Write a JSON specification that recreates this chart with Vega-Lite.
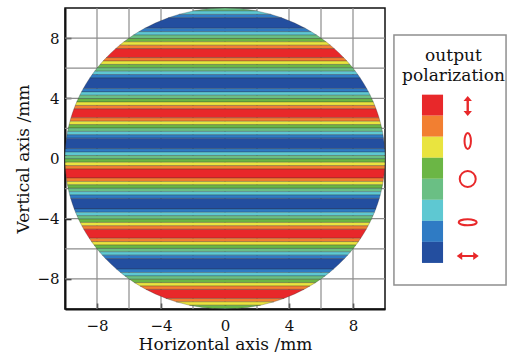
{
  "$schema": "https://vega.github.io/schema/vega-lite/v6.json",
  "padding": {"left": 14, "top": 6, "right": 0, "bottom": 0},
  "spacing": 0,
  "config": {
    "view": {"stroke": null},
    "axis": {"labelFont": "DejaVu Serif", "labelFontSize": 15, "labelColor": "#111", "titleFont": "DejaVu Serif", "titleFontSize": 17, "titleFontWeight": "normal", "titleColor": "#111", "domainColor": "#111", "domainWidth": 2, "tickColor": "#111", "tickWidth": 1.5, "tickSize": -6, "grid": false, "zindex": 1},
    "axisX": {"labelPadding": 15, "titlePadding": 3},
    "axisY": {"labelPadding": 12, "titlePadding": 4}
  },
  "hconcat": [
    {
      "width": 320,
      "height": 301,
      "view": {"stroke": "#111", "strokeWidth": 1.5},
      "layer": [
        {
          "data": {"values": [{"g": -8}, {"g": -6}, {"g": -4}, {"g": -2}, {"g": 0}, {"g": 2}, {"g": 4}, {"g": 6}, {"g": 8}]},
          "mark": {"type": "rule", "color": "#8c8c8c", "strokeWidth": 1.2},
          "encoding": {"x": {"field": "g", "type": "quantitative", "scale": {"domain": [-10, 10], "nice": false, "zero": false}, "axis": {"values": [-8, -4, 0, 4, 8], "title": "Horizontal axis /mm"}}}
        },
        {
          "data": {"values": [{"g": -8}, {"g": -6}, {"g": -4}, {"g": -2}, {"g": 0}, {"g": 2}, {"g": 4}, {"g": 6}, {"g": 8}]},
          "mark": {"type": "rule", "color": "#8c8c8c", "strokeWidth": 1.2},
          "encoding": {"y": {"field": "g", "type": "quantitative", "scale": {"domain": [-10, 10], "nice": false, "zero": false}, "axis": {"values": [-8, -4, 0, 4, 8], "title": "Vertical axis /mm"}}}
        },
        {
          "data": {"values": [
            {"s":1,"c":3,"y":10,"a":0,"b":0},{"s":1,"c":3,"y":9.96,"a":-0.894,"b":0.894},{"s":1,"c":3,"y":9.9,"a":-1.411,"b":1.411},{"s":1,"c":3,"y":9.8,"a":-1.99,"b":1.99},
            {"s":2,"c":2,"y":9.8,"a":-1.99,"b":1.99},{"s":2,"c":2,"y":9.575,"a":-2.884,"b":2.884},
            {"s":3,"c":1,"y":9.575,"a":-2.884,"b":2.884},{"s":3,"c":1,"y":9.35,"a":-3.546,"b":3.546},
            {"s":4,"c":0,"y":9.35,"a":-3.546,"b":3.546},{"s":4,"c":0,"y":9,"a":-4.359,"b":4.359},{"s":4,"c":0,"y":8.65,"a":-5.018,"b":5.018},
            {"s":5,"c":1,"y":8.65,"a":-5.018,"b":5.018},{"s":5,"c":1,"y":8.425,"a":-5.387,"b":5.387},
            {"s":6,"c":2,"y":8.425,"a":-5.387,"b":5.387},{"s":6,"c":2,"y":8.2,"a":-5.724,"b":5.724},
            {"s":7,"c":3,"y":8.2,"a":-5.724,"b":5.724},{"s":7,"c":3,"y":7.975,"a":-6.033,"b":6.033},
            {"s":8,"c":4,"y":7.975,"a":-6.033,"b":6.033},{"s":8,"c":4,"y":7.75,"a":-6.32,"b":6.32},
            {"s":9,"c":5,"y":7.75,"a":-6.32,"b":6.32},{"s":9,"c":5,"y":7.525,"a":-6.586,"b":6.586},
            {"s":10,"c":6,"y":7.525,"a":-6.586,"b":6.586},{"s":10,"c":6,"y":7.3,"a":-6.834,"b":6.834},
            {"s":11,"c":7,"y":7.3,"a":-6.834,"b":6.834},{"s":11,"c":7,"y":7,"a":-7.141,"b":7.141},{"s":11,"c":7,"y":6.7,"a":-7.424,"b":7.424},
            {"s":12,"c":6,"y":6.7,"a":-7.424,"b":7.424},{"s":12,"c":6,"y":6.475,"a":-7.621,"b":7.621},
            {"s":13,"c":5,"y":6.475,"a":-7.621,"b":7.621},{"s":13,"c":5,"y":6.25,"a":-7.806,"b":7.806},
            {"s":14,"c":4,"y":6.25,"a":-7.806,"b":7.806},{"s":14,"c":4,"y":6.025,"a":-7.981,"b":7.981},
            {"s":15,"c":3,"y":6.025,"a":-7.981,"b":7.981},{"s":15,"c":3,"y":5.8,"a":-8.146,"b":8.146},
            {"s":16,"c":2,"y":5.8,"a":-8.146,"b":8.146},{"s":16,"c":2,"y":5.575,"a":-8.302,"b":8.302},
            {"s":17,"c":1,"y":5.575,"a":-8.302,"b":8.302},{"s":17,"c":1,"y":5.35,"a":-8.449,"b":8.449},
            {"s":18,"c":0,"y":5.35,"a":-8.449,"b":8.449},{"s":18,"c":0,"y":5,"a":-8.66,"b":8.66},{"s":18,"c":0,"y":4.65,"a":-8.853,"b":8.853},
            {"s":19,"c":1,"y":4.65,"a":-8.853,"b":8.853},{"s":19,"c":1,"y":4.425,"a":-8.968,"b":8.968},
            {"s":20,"c":2,"y":4.425,"a":-8.968,"b":8.968},{"s":20,"c":2,"y":4.2,"a":-9.075,"b":9.075},
            {"s":21,"c":3,"y":4.2,"a":-9.075,"b":9.075},{"s":21,"c":3,"y":3.975,"a":-9.176,"b":9.176},
            {"s":22,"c":4,"y":3.975,"a":-9.176,"b":9.176},{"s":22,"c":4,"y":3.75,"a":-9.27,"b":9.27},
            {"s":23,"c":5,"y":3.75,"a":-9.27,"b":9.27},{"s":23,"c":5,"y":3.525,"a":-9.358,"b":9.358},
            {"s":24,"c":6,"y":3.525,"a":-9.358,"b":9.358},{"s":24,"c":6,"y":3.3,"a":-9.44,"b":9.44},
            {"s":25,"c":7,"y":3.3,"a":-9.44,"b":9.44},{"s":25,"c":7,"y":3,"a":-9.539,"b":9.539},{"s":25,"c":7,"y":2.7,"a":-9.629,"b":9.629},
            {"s":26,"c":6,"y":2.7,"a":-9.629,"b":9.629},{"s":26,"c":6,"y":2.475,"a":-9.689,"b":9.689},
            {"s":27,"c":5,"y":2.475,"a":-9.689,"b":9.689},{"s":27,"c":5,"y":2.25,"a":-9.744,"b":9.744},
            {"s":28,"c":4,"y":2.25,"a":-9.744,"b":9.744},{"s":28,"c":4,"y":2.025,"a":-9.793,"b":9.793},
            {"s":29,"c":3,"y":2.025,"a":-9.793,"b":9.793},{"s":29,"c":3,"y":1.8,"a":-9.837,"b":9.837},
            {"s":30,"c":2,"y":1.8,"a":-9.837,"b":9.837},{"s":30,"c":2,"y":1.575,"a":-9.875,"b":9.875},
            {"s":31,"c":1,"y":1.575,"a":-9.875,"b":9.875},{"s":31,"c":1,"y":1.35,"a":-9.908,"b":9.908},
            {"s":32,"c":0,"y":1.35,"a":-9.908,"b":9.908},{"s":32,"c":0,"y":1,"a":-9.95,"b":9.95},{"s":32,"c":0,"y":0.65,"a":-9.979,"b":9.979},
            {"s":33,"c":1,"y":0.65,"a":-9.979,"b":9.979},{"s":33,"c":1,"y":0.425,"a":-9.991,"b":9.991},
            {"s":34,"c":2,"y":0.425,"a":-9.991,"b":9.991},{"s":34,"c":2,"y":0.2,"a":-9.998,"b":9.998},
            {"s":35,"c":3,"y":0.2,"a":-9.998,"b":9.998},{"s":35,"c":3,"y":0,"a":-10,"b":10},{"s":35,"c":3,"y":-0.025,"a":-10,"b":10},
            {"s":36,"c":4,"y":-0.025,"a":-10,"b":10},{"s":36,"c":4,"y":-0.25,"a":-9.997,"b":9.997},
            {"s":37,"c":5,"y":-0.25,"a":-9.997,"b":9.997},{"s":37,"c":5,"y":-0.475,"a":-9.989,"b":9.989},
            {"s":38,"c":6,"y":-0.475,"a":-9.989,"b":9.989},{"s":38,"c":6,"y":-0.7,"a":-9.975,"b":9.975},
            {"s":39,"c":7,"y":-0.7,"a":-9.975,"b":9.975},{"s":39,"c":7,"y":-1,"a":-9.95,"b":9.95},{"s":39,"c":7,"y":-1.3,"a":-9.915,"b":9.915},
            {"s":40,"c":6,"y":-1.3,"a":-9.915,"b":9.915},{"s":40,"c":6,"y":-1.525,"a":-9.883,"b":9.883},
            {"s":41,"c":5,"y":-1.525,"a":-9.883,"b":9.883},{"s":41,"c":5,"y":-1.75,"a":-9.846,"b":9.846},
            {"s":42,"c":4,"y":-1.75,"a":-9.846,"b":9.846},{"s":42,"c":4,"y":-1.975,"a":-9.803,"b":9.803},
            {"s":43,"c":3,"y":-1.975,"a":-9.803,"b":9.803},{"s":43,"c":3,"y":-2.2,"a":-9.755,"b":9.755},
            {"s":44,"c":2,"y":-2.2,"a":-9.755,"b":9.755},{"s":44,"c":2,"y":-2.425,"a":-9.702,"b":9.702},
            {"s":45,"c":1,"y":-2.425,"a":-9.702,"b":9.702},{"s":45,"c":1,"y":-2.65,"a":-9.643,"b":9.643},
            {"s":46,"c":0,"y":-2.65,"a":-9.643,"b":9.643},{"s":46,"c":0,"y":-3,"a":-9.539,"b":9.539},{"s":46,"c":0,"y":-3.35,"a":-9.422,"b":9.422},
            {"s":47,"c":1,"y":-3.35,"a":-9.422,"b":9.422},{"s":47,"c":1,"y":-3.575,"a":-9.339,"b":9.339},
            {"s":48,"c":2,"y":-3.575,"a":-9.339,"b":9.339},{"s":48,"c":2,"y":-3.8,"a":-9.25,"b":9.25},
            {"s":49,"c":3,"y":-3.8,"a":-9.25,"b":9.25},{"s":49,"c":3,"y":-4.025,"a":-9.154,"b":9.154},
            {"s":50,"c":4,"y":-4.025,"a":-9.154,"b":9.154},{"s":50,"c":4,"y":-4.25,"a":-9.052,"b":9.052},
            {"s":51,"c":5,"y":-4.25,"a":-9.052,"b":9.052},{"s":51,"c":5,"y":-4.475,"a":-8.943,"b":8.943},
            {"s":52,"c":6,"y":-4.475,"a":-8.943,"b":8.943},{"s":52,"c":6,"y":-4.7,"a":-8.827,"b":8.827},
            {"s":53,"c":7,"y":-4.7,"a":-8.827,"b":8.827},{"s":53,"c":7,"y":-5,"a":-8.66,"b":8.66},{"s":53,"c":7,"y":-5.3,"a":-8.48,"b":8.48},
            {"s":54,"c":6,"y":-5.3,"a":-8.48,"b":8.48},{"s":54,"c":6,"y":-5.525,"a":-8.335,"b":8.335},
            {"s":55,"c":5,"y":-5.525,"a":-8.335,"b":8.335},{"s":55,"c":5,"y":-5.75,"a":-8.182,"b":8.182},
            {"s":56,"c":4,"y":-5.75,"a":-8.182,"b":8.182},{"s":56,"c":4,"y":-5.975,"a":-8.019,"b":8.019},
            {"s":57,"c":3,"y":-5.975,"a":-8.019,"b":8.019},{"s":57,"c":3,"y":-6.2,"a":-7.846,"b":7.846},
            {"s":58,"c":2,"y":-6.2,"a":-7.846,"b":7.846},{"s":58,"c":2,"y":-6.425,"a":-7.663,"b":7.663},
            {"s":59,"c":1,"y":-6.425,"a":-7.663,"b":7.663},{"s":59,"c":1,"y":-6.65,"a":-7.468,"b":7.468},
            {"s":60,"c":0,"y":-6.65,"a":-7.468,"b":7.468},{"s":60,"c":0,"y":-7,"a":-7.141,"b":7.141},{"s":60,"c":0,"y":-7.35,"a":-6.781,"b":6.781},
            {"s":61,"c":1,"y":-7.35,"a":-6.781,"b":6.781},{"s":61,"c":1,"y":-7.575,"a":-6.528,"b":6.528},
            {"s":62,"c":2,"y":-7.575,"a":-6.528,"b":6.528},{"s":62,"c":2,"y":-7.8,"a":-6.258,"b":6.258},
            {"s":63,"c":3,"y":-7.8,"a":-6.258,"b":6.258},{"s":63,"c":3,"y":-8.025,"a":-5.966,"b":5.966},
            {"s":64,"c":4,"y":-8.025,"a":-5.966,"b":5.966},{"s":64,"c":4,"y":-8.25,"a":-5.651,"b":5.651},
            {"s":65,"c":5,"y":-8.25,"a":-5.651,"b":5.651},{"s":65,"c":5,"y":-8.475,"a":-5.308,"b":5.308},
            {"s":66,"c":6,"y":-8.475,"a":-5.308,"b":5.308},{"s":66,"c":6,"y":-8.7,"a":-4.931,"b":4.931},
            {"s":67,"c":7,"y":-8.7,"a":-4.931,"b":4.931},{"s":67,"c":7,"y":-9,"a":-4.359,"b":4.359},{"s":67,"c":7,"y":-9.3,"a":-3.676,"b":3.676},
            {"s":68,"c":6,"y":-9.3,"a":-3.676,"b":3.676},{"s":68,"c":6,"y":-9.525,"a":-3.045,"b":3.045},
            {"s":69,"c":5,"y":-9.525,"a":-3.045,"b":3.045},{"s":69,"c":5,"y":-9.75,"a":-2.222,"b":2.222},
            {"s":70,"c":4,"y":-9.75,"a":-2.222,"b":2.222},{"s":70,"c":4,"y":-9.9,"a":-1.411,"b":1.411},{"s":70,"c":4,"y":-9.975,"a":-0.707,"b":0.707},
            {"s":71,"c":3,"y":-9.975,"a":-0.707,"b":0.707},{"s":71,"c":3,"y":-10,"a":0,"b":0}
          ]},
          "mark": {"type": "area", "orient": "horizontal", "stroke": "#2a2a2a", "strokeWidth": 0.4, "strokeOpacity": 0.7},
          "encoding": {
            "y": {"field": "y", "type": "quantitative", "scale": {"domain": [-10, 10], "nice": false, "zero": false}, "axis": {"values": [-8, -4, 0, 4, 8], "title": "Vertical axis /mm"}},
            "x": {"field": "a", "type": "quantitative", "stack": null, "scale": {"domain": [-10, 10], "nice": false, "zero": false}, "axis": {"values": [-8, -4, 0, 4, 8], "title": "Horizontal axis /mm"}},
            "x2": {"field": "b"},
            "detail": {"field": "s", "type": "nominal"},
            "color": {"field": "c", "type": "ordinal", "scale": {"domain": [0, 1, 2, 3, 4, 5, 6, 7], "range": ["#234e9f", "#2f7bc4", "#5ec8d2", "#6abf84", "#6bb645", "#e9e43f", "#f27f31", "#e8282a"]}, "legend": null}
          }
        }
      ]
    },
    {
      "width": 124,
      "height": 301,
      "view": {"stroke": null},
      "layer": [
        {
          "data": {"values": [{"k": "box"}]},
          "mark": {"type": "rect", "fill": "white", "stroke": "#8f8f8f", "strokeWidth": 1.5},
          "encoding": {
            "x": {"datum": 0.56, "type": "quantitative", "scale": {"domain": [0, 10], "nice": false, "zero": false}, "axis": null},
            "x2": {"datum": 9.6},
            "y": {"datum": -1.55, "type": "quantitative", "scale": {"domain": [-2.69, 11.62], "nice": false, "zero": false}, "axis": null},
            "y2": {"datum": 10.34}
          }
        },
        {
          "data": {"values": [{"c": 7, "lo": 6.5, "hi": 7.5}, {"c": 6, "lo": 5.5, "hi": 6.5}, {"c": 5, "lo": 4.5, "hi": 5.5}, {"c": 4, "lo": 3.5, "hi": 4.5}, {"c": 3, "lo": 2.5, "hi": 3.5}, {"c": 2, "lo": 1.5, "hi": 2.5}, {"c": 1, "lo": 0.5, "hi": 1.5}, {"c": 0, "lo": -0.5, "hi": 0.5}]},
          "mark": {"type": "rect"},
          "encoding": {
            "x": {"datum": 2.82, "type": "quantitative", "scale": {"domain": [0, 10], "nice": false, "zero": false}, "axis": null},
            "x2": {"datum": 4.52},
            "y": {"field": "lo", "type": "quantitative", "scale": {"domain": [-2.69, 11.62], "nice": false, "zero": false}, "axis": null},
            "y2": {"field": "hi"},
            "color": {"field": "c", "type": "ordinal", "scale": {"domain": [0, 1, 2, 3, 4, 5, 6, 7], "range": ["#234e9f", "#2f7bc4", "#5ec8d2", "#6abf84", "#6bb645", "#e9e43f", "#f27f31", "#e8282a"]}, "legend": null}
          }
        },
        {
          "data": {"values": [{"t": "output", "lv": 9.1}, {"t": "polarization", "lv": 8.15}]},
          "mark": {"type": "text", "align": "center", "baseline": "alphabetic", "font": "DejaVu Serif", "fontSize": 17, "color": "#111"},
          "encoding": {
            "x": {"datum": 5.36, "type": "quantitative", "scale": {"domain": [0, 10], "nice": false, "zero": false}, "axis": null},
            "y": {"field": "lv", "type": "quantitative", "scale": {"domain": [-2.69, 11.62], "nice": false, "zero": false}, "axis": null},
            "text": {"field": "t"}
          }
        },
        {
          "data": {"values": [{"lv": 6.96}]},
          "mark": {"type": "point", "filled": true, "color": "#e8282a", "opacity": 1, "size": 400, "shape": "M0,-1 L0.42,-0.5 L0.12,-0.5 L0.12,0.5 L0.42,0.5 L0,1 L-0.42,0.5 L-0.12,0.5 L-0.12,-0.5 L-0.42,-0.5 Z"},
          "encoding": {
            "x": {"datum": 6.51, "type": "quantitative", "scale": {"domain": [0, 10], "nice": false, "zero": false}, "axis": null},
            "y": {"field": "lv", "type": "quantitative", "scale": {"domain": [-2.69, 11.62], "nice": false, "zero": false}, "axis": null}
          }
        },
        {
          "data": {"values": [{"lv": 5.3}]},
          "mark": {"type": "point", "filled": false, "color": "#e8282a", "opacity": 1, "strokeWidth": 2, "size": 256, "shape": "M0,-1 A0.4,1 0 1 1 0,1 A0.4,1 0 1 1 0,-1 Z"},
          "encoding": {
            "x": {"datum": 6.51, "type": "quantitative", "scale": {"domain": [0, 10], "nice": false, "zero": false}, "axis": null},
            "y": {"field": "lv", "type": "quantitative", "scale": {"domain": [-2.69, 11.62], "nice": false, "zero": false}, "axis": null}
          }
        },
        {
          "data": {"values": [{"lv": 3.49}]},
          "mark": {"type": "point", "filled": false, "color": "#e8282a", "opacity": 1, "strokeWidth": 2, "size": 256, "shape": "M-1,0 A1,1 0 1 1 1,0 A1,1 0 1 1 -1,0 Z"},
          "encoding": {
            "x": {"datum": 6.51, "type": "quantitative", "scale": {"domain": [0, 10], "nice": false, "zero": false}, "axis": null},
            "y": {"field": "lv", "type": "quantitative", "scale": {"domain": [-2.69, 11.62], "nice": false, "zero": false}, "axis": null}
          }
        },
        {
          "data": {"values": [{"lv": 1.43}]},
          "mark": {"type": "point", "filled": false, "color": "#e8282a", "opacity": 1, "strokeWidth": 2, "size": 324, "shape": "M-1,0 A1,0.33 0 1 1 1,0 A1,0.33 0 1 1 -1,0 Z"},
          "encoding": {
            "x": {"datum": 6.51, "type": "quantitative", "scale": {"domain": [0, 10], "nice": false, "zero": false}, "axis": null},
            "y": {"field": "lv", "type": "quantitative", "scale": {"domain": [-2.69, 11.62], "nice": false, "zero": false}, "axis": null}
          }
        },
        {
          "data": {"values": [{"lv": -0.17}]},
          "mark": {"type": "point", "filled": true, "color": "#e8282a", "opacity": 1, "size": 484, "shape": "M-1,0 L-0.5,-0.36 L-0.5,-0.1 L0.5,-0.1 L0.5,-0.36 L1,0 L0.5,0.36 L0.5,0.1 L-0.5,0.1 L-0.5,0.36 Z"},
          "encoding": {
            "x": {"datum": 6.51, "type": "quantitative", "scale": {"domain": [0, 10], "nice": false, "zero": false}, "axis": null},
            "y": {"field": "lv", "type": "quantitative", "scale": {"domain": [-2.69, 11.62], "nice": false, "zero": false}, "axis": null}
          }
        }
      ]
    }
  ]
}
